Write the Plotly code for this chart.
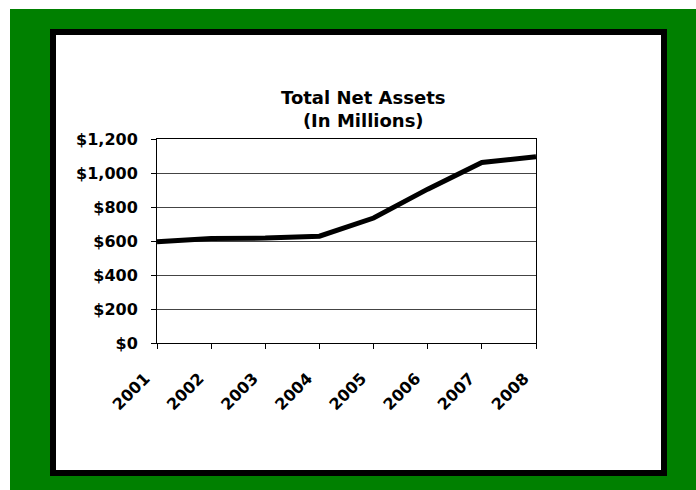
import plotly.graph_objects as go

years = ["2001", "2002", "2003", "2004", "2005", "2006", "2007", "2008"]
net_assets = [595, 615, 617, 628, 735, 905, 1062, 1095]
y_ticks = [0, 200, 400, 600, 800, 1000, 1200]

W, H = 696, 490
L, R, T, B = 157, 536, 139, 343  # plot area in px

def fx(px):
    return (px - L) / (R - L)

def fy(py):
    return (B - py) / (B - T)

FONT = "DejaVu Sans"

fig = go.Figure()
fig.add_trace(go.Scatter(
    x=years, y=net_assets, mode="lines",
    line=dict(color="black", width=5),
    hoverinfo="skip", showlegend=False,
))

shapes = [
    dict(type="rect", xref="paper", yref="paper", layer="below",
         x0=fx(10), x1=fx(700), y0=fy(9), y1=fy(495),
         fillcolor="#008000", line=dict(width=0)),
    dict(type="rect", xref="paper", yref="paper", layer="below",
         x0=fx(53), x1=fx(664), y0=fy(32), y1=fy(473),
         fillcolor="white", line=dict(color="black", width=6)),
]

fig.update_layout(
    width=W, height=H,
    margin=dict(l=L, r=W - R, t=T, b=H - B, pad=0),
    paper_bgcolor="white", plot_bgcolor="rgba(0,0,0,0)",
    shapes=shapes,
    showlegend=False,
    annotations=[dict(
        text="Total Net Assets<br>(In Millions)",
        xref="paper", yref="paper", x=fx(363), y=fy(109),
        xanchor="center", yanchor="middle", showarrow=False,
        font=dict(family=FONT, size=18, color="black", weight="bold"),
    )],
)

fig.update_xaxes(
    type="category", range=[0, len(years) - 1],
    tickvals=years, ticktext=[y + "\u00a0\u00a0\u00a0" for y in years],
    tickangle=-45, ticks="outside", ticklen=5, tickcolor="black",
    showline=True, mirror=True, linecolor="black", linewidth=1,
    showgrid=False, zeroline=False, ticklabelstandoff=2,
    tickfont=dict(family=FONT, size=16, color="black", weight="bold"),
)
fig.update_yaxes(
    range=[0, 1200], tickvals=y_ticks, tickformat="$,.0f",
    ticks="outside", ticklen=5, tickcolor="black",
    showline=True, mirror=True, linecolor="black", linewidth=1,
    showgrid=True, gridcolor="#444444", gridwidth=1, zeroline=False,
    ticklabelstandoff=10,
    tickfont=dict(family=FONT, size=16, color="black", weight="bold"),
)

fig.write_html("out.html")
